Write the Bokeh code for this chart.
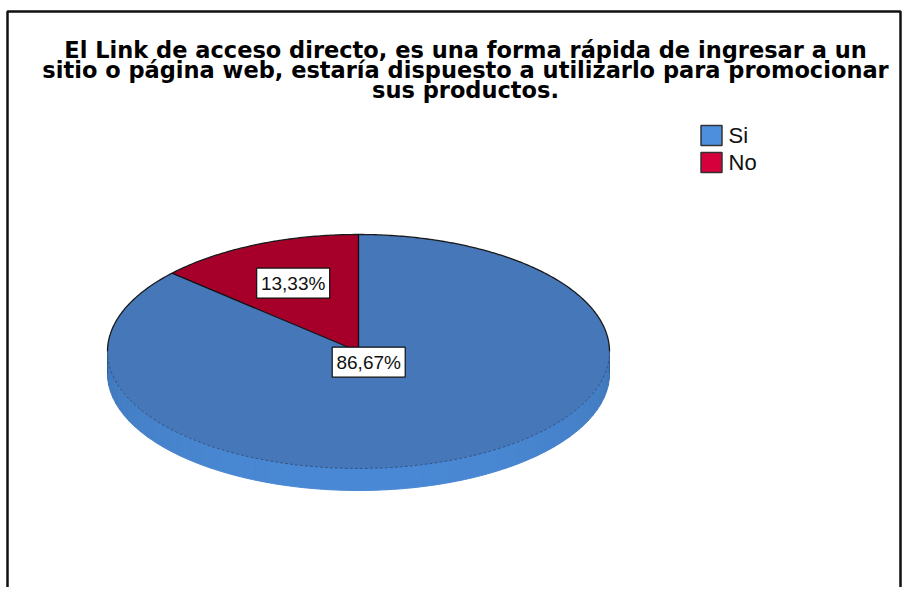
import numpy as np
from bokeh.plotting import figure
from bokeh.models import Range1d
from bokeh.core.properties import value
from bokeh.embed import file_html
from bokeh.resources import INLINE

# ---------------- data ----------------
categories = ["Si", "No"]
percentages = [86.67, 13.33]
pct_labels = ["86,67%", "13,33%"]
title_lines = [
    "El Link de acceso directo, es una forma rápida de ingresar a un",
    "sitio o página web, estaría dispuesto a utilizarlo para promocionar",
    "sus productos.",
]

# ---------------- styles / layout ----------------
top_colors = ["#4677b9", "#a6002a"]
side_colors = ["#4a89d5", "#c0003a"]
legend_colors = ["#4d8fdd", "#d6003c"]
label_frac = [0.10, 0.64]

W, H = 902, 587
PAGE_H = 603
def Y(py):
    return PAGE_H - py

cx, cy = 358.0, Y(351)
rx, ry = 251.0, 117.0
depth = 22.0

p = figure(width=W, height=H, output_backend="svg", toolbar_location=None,
           x_range=Range1d(0, W), y_range=Range1d(PAGE_H - H, PAGE_H),
           x_axis_location=None, y_axis_location=None, min_border=0)
p.grid.visible = False
p.outline_line_color = None
p.background_fill_color = "white"
p.border_fill_color = "white"

# frame border
p.line([7, 7, 900, 900], [Y(620), Y(11), Y(11), Y(620)], line_color="#111111", line_width=2.5)

# slice angles: 'No' drawn counterclockwise from 12 o'clock, then 'Si'
total = sum(percentages)
order = [1, 0]
starts, ends = {}, {}
a = np.pi / 2
for i in order:
    span = 2 * np.pi * percentages[i] / total
    starts[i] = a
    ends[i] = a + span
    a += span

def ept(t, dy=0.0, f=1.0):
    return cx + f * rx * np.cos(t), cy + f * ry * np.sin(t) - dy

def slice_of(t):
    t = (t - np.pi / 2) % (2 * np.pi) + np.pi / 2
    for i in order:
        if starts[i] <= t <= ends[i] + 1e-9:
            return i
    return order[-1]

# side wall (bottom half), striped shading
n_strips = 60
ts = np.linspace(np.pi, 2 * np.pi, n_strips + 1)
xs_s, ys_s, cols = [], [], []
for k in range(n_strips):
    t0, t1 = ts[k], ts[k + 1]
    tt = np.linspace(t0, t1, 4)
    x_top, y_top = ept(tt)
    x_bot, y_bot = ept(tt[::-1], depth)
    xs_s.append(list(x_top) + list(x_bot))
    ys_s.append(list(y_top) + list(y_bot))
    tm = 0.5 * (t0 + t1)
    i = slice_of(tm)
    base = np.array([int(side_colors[i][j:j + 2], 16) for j in (1, 3, 5)], float)
    shade = 0.84 + 0.16 * np.sin(tm - np.pi) ** 0.6
    c = np.clip(base * shade, 0, 255).astype(int)
    cols.append("#%02x%02x%02x" % tuple(c))
p.patches(xs_s, ys_s, fill_color=cols, line_color=cols, line_width=1)

# top face slices
for i in order:
    tt = np.linspace(starts[i], ends[i], 200)
    x, y = ept(tt)
    xs = [cx] + list(x) + [cx]
    ys = [cy] + list(y) + [cy]
    p.patch(xs, ys, fill_color=top_colors[i], line_color=None)

# outlines
tt = np.linspace(0, np.pi, 300)
x, y = ept(tt)
p.line(x, y, line_color="#1a1a1a", line_width=1.3)
tt = np.linspace(np.pi, 2 * np.pi, 300)
x, y = ept(tt)
p.line(x, y, line_color="#2b4a78", line_width=1, line_dash="3 2", line_alpha=0.8)
for i in order:
    ex, ey = ept(starts[i])
    p.line([cx, ex], [cy, ey], line_color="#111111", line_width=1.3)
for t in (np.pi, 2 * np.pi):
    ex, ey = ept(t)
    p.line([ex, ex], [ey, ey - depth], line_color="#2f5a94", line_width=1)

# percentage labels
for i in range(len(categories)):
    tm = 0.5 * (starts[i] + ends[i])
    lx, ly = ept(tm, f=label_frac[i])
    p.rect([lx], [ly], width=73, height=30, fill_color="white",
           line_color="#111111", line_width=1.2)
    p.text([lx], [ly], text=[pct_labels[i]], text_align="center", text_baseline="middle",
           text_font=value("Liberation Sans"), text_font_size="19px", text_color="#111111")

# legend
leg_x, leg_y0, leg_dy = 711, 135, 27
for k, i in enumerate([0, 1]):
    yy = Y(leg_y0 + k * leg_dy)
    p.rect([leg_x], [yy], width=21, height=20, fill_color=legend_colors[i],
           line_color="#333333", line_width=1.5)
    p.text([leg_x + 17], [yy], text=[categories[i]], text_align="left", text_baseline="middle",
           text_font=value("Liberation Sans"), text_font_size="22px", text_color="#111111")

# title
for k, line in enumerate(title_lines):
    p.text([465], [Y(49 + 20 * k)], text=[line], text_align="center", text_baseline="alphabetic",
           text_font=value("DejaVu Sans"), text_font_style="bold", text_font_size="22.5px",
           text_color="#000000")

open("out.html", "w").write(file_html(p, INLINE))
